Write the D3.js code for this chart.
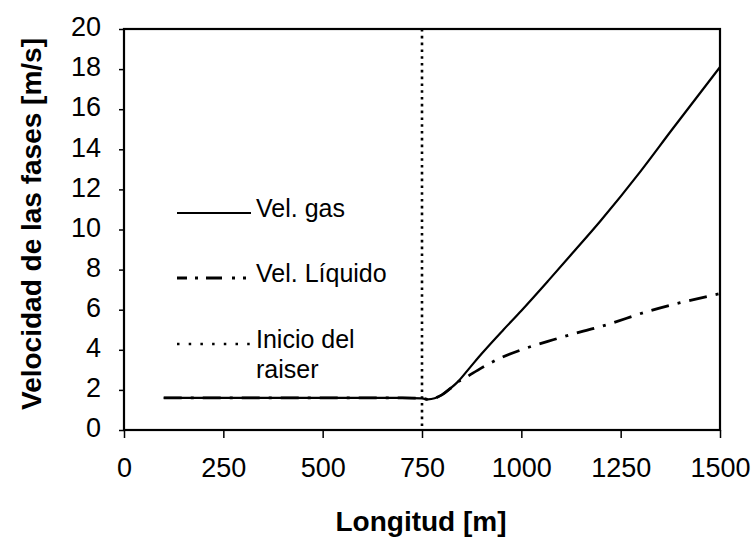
<!DOCTYPE html>
<html>
<head>
<meta charset="utf-8">
<script src="https://cdn.jsdelivr.net/npm/d3@7"></script>
<style>
  body { margin: 0; background: #fff; }
  svg { display: block; }
  text { font-family: "Liberation Sans", Arial, sans-serif; fill: #000; }
</style>
</head>
<body>
<svg id="chart" width="756" height="540"></svg>
<script>
// ---- data ----
const gasX = [100, 300, 500, 700, 750, 765, 800, 820, 840, 870, 900, 955, 1000, 1068, 1130, 1198, 1300, 1378, 1500];
const gasY = [1.6, 1.6, 1.6, 1.6, 1.58, 1.53, 1.75, 2.05, 2.4, 3.1, 3.8, 5.0, 5.95, 7.45, 8.85, 10.4, 12.9, 14.95, 18.1];
const liqX = [100, 300, 500, 700, 750, 765, 800, 820, 840, 854, 900, 946, 1000, 1080, 1156, 1198, 1324, 1400, 1500];
const liqY = [1.6, 1.6, 1.6, 1.6, 1.58, 1.53, 1.75, 2.05, 2.4, 2.55, 3.1, 3.58, 4.0, 4.5, 4.93, 5.15, 5.95, 6.35, 6.8];
const raiserX = [750];
const xTicks = [0, 250, 500, 750, 1000, 1250, 1500];
const yTicks = [0, 2, 4, 6, 8, 10, 12, 14, 16, 18, 20];
const legendLabels = [["Vel. gas"], ["Vel. Líquido"], ["Inicio del", "raiser"]];
const xTitle = "Longitud [m]";
const yTitle = "Velocidad de las fases [m/s]";

// ---- layout ----
const svg = d3.select("#chart");
const L = 124, R = 720, T = 29, B = 430;
const x = d3.scaleLinear().domain([0, 1500]).range([L, R]);
const y = d3.scaleLinear().domain([0, 20]).range([B, T]);

// axes
const xAxis = svg.append("g").attr("transform", `translate(0,${B})`)
  .call(d3.axisBottom(x).tickValues(xTicks).tickSize(8).tickPadding(20).tickFormat(d3.format("d")));
const yAxis = svg.append("g").attr("transform", `translate(${L},0)`)
  .call(d3.axisLeft(y).tickValues(yTicks).tickSize(5).tickPadding(18).tickFormat(d3.format("d")));
[xAxis, yAxis].forEach(g => {
  g.select(".domain").remove();
  g.selectAll(".tick line").attr("stroke", "#000").attr("stroke-width", 1.5);
  g.selectAll(".tick text").style("font-size", "27px").attr("fill", "#000")
    .style("font-family", '"Liberation Sans", Arial, sans-serif');
});
yAxis.selectAll(".tick text").attr("dy", "0.25em");

// frame
svg.append("rect").attr("x", L).attr("y", T).attr("width", R - L).attr("height", B - T)
  .attr("fill", "none").attr("stroke", "#000").attr("stroke-width", 2.2);

// raiser line
svg.selectAll(".raiser").data(raiserX).enter().append("line")
  .attr("x1", d => x(d)).attr("x2", d => x(d)).attr("y1", y(20)).attr("y2", y(0))
  .attr("stroke", "#000").attr("stroke-width", 2.6).attr("stroke-dasharray", "2.6,4.2");

const line = d3.line().x(d => x(d[0])).y(d => y(d[1])).curve(d3.curveMonotoneX);
const liq = liqX.map((v, i) => [v, liqY[i]]);
const gas = gasX.map((v, i) => [v, gasY[i]]);

svg.append("path").attr("d", line(liq)).attr("fill", "none").attr("stroke", "#000")
  .attr("stroke-width", 2.8).attr("stroke-dasharray", "18,9,3,9");
svg.append("path").attr("d", line(gas)).attr("fill", "none").attr("stroke", "#000")
  .attr("stroke-width", 2.2);

// legend
const legY = [213, 278, 344];
const legStyles = [
  { dash: null, w: 2.2 },
  { dash: "10,8,3,8,16,10,3,8,3", w: 2.8 },
  { dash: "2.5,9.2", w: 2.5 }
];
legY.forEach((ly, i) => {
  svg.append("line").attr("x1", 177).attr("x2", 251).attr("y1", ly).attr("y2", ly)
    .attr("stroke", "#000").attr("stroke-width", legStyles[i].w)
    .attr("stroke-dasharray", legStyles[i].dash);
  legendLabels[i].forEach((t, j) => {
    svg.append("text").attr("x", 256).attr("y", ly + 4 + j * 30)
      .style("font-size", "25px").text(t);
  });
});

// titles
svg.append("text").attr("x", 421).attr("y", 531).attr("text-anchor", "middle")
  .style("font-size", "28px").style("font-weight", "bold").text(xTitle);
svg.append("text").attr("transform", "translate(41,224) rotate(-90)").attr("text-anchor", "middle")
  .style("font-size", "28px").style("font-weight", "bold").text(yTitle);
</script>
</body>
</html>
